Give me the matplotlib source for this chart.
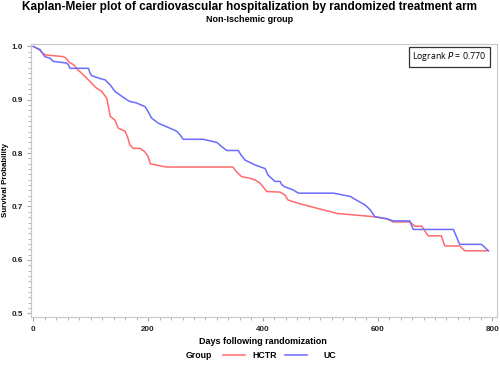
import numpy as np
import matplotlib.pyplot as plt
from matplotlib.ticker import MultipleLocator
from matplotlib.lines import Line2D

plt.rcParams['font.family'] = ['Liberation Sans', 'DejaVu Sans']

# Kaplan-Meier curves (days, survival probability)
hctr_days = [0, 10, 17, 22, 52, 57, 63, 70, 78, 87, 99, 110, 119, 128, 131, 134, 142, 148,
             160, 165, 168, 174, 186, 194, 200, 204, 232, 348, 354, 363, 377, 386, 395, 407,
             430, 438, 444, 465, 529, 592, 616, 627, 656, 665, 677, 688, 711, 717, 743, 752, 793]
hctr_surv = [1.0, 0.994, 0.987, 0.984, 0.981, 0.978, 0.970, 0.966, 0.956, 0.947, 0.934, 0.922,
             0.916, 0.903, 0.887, 0.869, 0.862, 0.847, 0.841, 0.828, 0.816, 0.809, 0.809, 0.803,
             0.794, 0.780, 0.774, 0.774, 0.765, 0.756, 0.753, 0.750, 0.744, 0.728, 0.727, 0.722,
             0.712, 0.705, 0.687, 0.681, 0.677, 0.671, 0.671, 0.663, 0.663, 0.645, 0.645, 0.626,
             0.626, 0.617, 0.617]

uc_days = [0, 12, 20, 29, 35, 58, 61, 64, 96, 99, 102, 119, 125, 134, 142, 151, 163, 168, 180,
           195, 200, 206, 218, 244, 250, 256, 261, 296, 320, 328, 337, 357, 363, 369, 386, 404,
           409, 421, 430, 433, 438, 453, 462, 523, 552, 563, 578, 587, 595, 616, 627, 656, 662,
           732, 743, 781, 793]
uc_surv = [1.0, 0.994, 0.981, 0.978, 0.972, 0.969, 0.966, 0.959, 0.959, 0.950, 0.945, 0.939,
           0.9375, 0.928, 0.916, 0.909, 0.900, 0.897, 0.894, 0.887, 0.878, 0.866, 0.856, 0.844,
           0.841, 0.834, 0.826, 0.826, 0.820, 0.8125, 0.805, 0.805, 0.795, 0.787, 0.778, 0.771,
           0.759, 0.747, 0.747, 0.741, 0.737, 0.731, 0.725, 0.725, 0.719, 0.712, 0.703, 0.694,
           0.681, 0.677, 0.673, 0.673, 0.657, 0.657, 0.629, 0.629, 0.617]

groups = ['HCTR', 'UC']
colors = ['#FF6B6B', '#6B6BFF']

fig = plt.figure(figsize=(5, 3.65), dpi=100)
ax = fig.add_axes([0.062, 0.131, 0.932, 0.749])

ax.plot(hctr_days, hctr_surv, color=colors[0], lw=1.1)
ax.plot(uc_days, uc_surv, color=colors[1], lw=1.1)

ax.set_xlim(-4, 808)
ax.set_ylim(0.4925, 1.005)
ax.xaxis.set_major_locator(MultipleLocator(200))
ax.xaxis.set_minor_locator(MultipleLocator(20))
ax.yaxis.set_major_locator(MultipleLocator(0.1))
ax.yaxis.set_minor_locator(MultipleLocator(0.01))
ax.yaxis.set_major_formatter(plt.FuncFormatter(lambda v, p: f'{v:.1f}'))

for s in ax.spines.values():
    s.set_color('#C8C8C8')
    s.set_linewidth(0.8)
ax.tick_params(which='both', colors='#A8A8A8', labelcolor='#222222', direction='out')
ax.tick_params(which='major', length=3, labelsize=5.8, pad=3)
ax.tick_params(which='minor', length=2)
for lab in ax.get_xticklabels() + ax.get_yticklabels():
    lab.set_fontweight('bold')

ax.set_ylabel('Survival Probability', fontsize=5.7, fontweight='bold')
ax.yaxis.set_label_coords(-0.048, 0.5)
ax.set_xlabel('Days following randomization', fontsize=6.5, fontweight='bold')
ax.xaxis.set_label_coords(0.497, -0.072)

fig.text(0.5, 0.980, 'Kaplan-Meier plot of cardiovascular hospitalization by randomized treatment arm',
         ha='center', va='center', fontsize=8.5, fontweight='bold')
fig.text(0.5, 0.946, 'Non-Ischemic group', ha='center', va='center', fontsize=6.5, fontweight='bold')

ax.text(0.977, 0.976, 'Logrank $\\mathit{P}$ = 0.770', transform=ax.transAxes, ha='right', va='top',
        fontsize=6.3, family='Open Sans',
        bbox=dict(boxstyle='square,pad=0.4', fc='white', ec='#333333', lw=0.9))

# legend row below the x label
ly = 1 - 355 / 365
fig.text(186 / 500, ly, 'Group', ha='left', va='center', fontsize=6.3, fontweight='bold')
for (x0, x1, tx), name, c in zip([(223, 245, 252), (285, 307, 323)], groups, colors):
    fig.add_artist(Line2D([x0 / 500, x1 / 500], [ly, ly], color=c, lw=1.1,
                          transform=fig.transFigure))
    fig.text(tx / 500, ly, name, ha='left', va='center', fontsize=6.3, fontweight='bold')

fig.savefig('out.png', dpi=100)
